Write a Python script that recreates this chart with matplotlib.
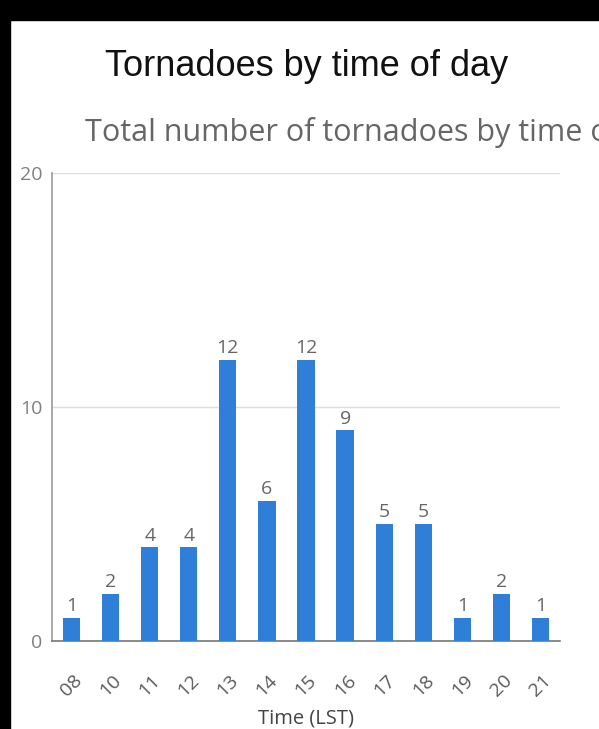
import matplotlib
matplotlib.use("Agg")
import matplotlib.pyplot as plt
from matplotlib.patches import Rectangle

# tornado counts by hour (LST)
hours = ["08", "10", "11", "12", "13", "14", "15", "16", "17", "18", "19", "20", "21"]
counts = [1, 2, 4, 4, 12, 6, 12, 9, 5, 5, 1, 2, 1]
y_ticks = [0, 10, 20]

W, H = 599, 729
fig = plt.figure(figsize=(W / 100, H / 100), dpi=100)

# black frame strips seen on top and left of the screenshot
fig.patches.append(Rectangle((0, 1 - 20 / H), 1, 20 / H, transform=fig.transFigure,
                             color="black", zorder=0))
fig.patches.append(Rectangle((0, 0), 10 / W, 1, transform=fig.transFigure,
                             color="black", zorder=0))

ax = fig.add_axes([52 / W, 1 - 641 / H, 508 / W, 468 / H])

x = range(len(hours))
ax.bar(x, counts, width=0.44, color="#2f7fd9", zorder=3)
for xi, c in zip(x, counts):
    ax.text(xi, c + 0.12, str(c), ha="center", va="bottom", fontsize=14,
            color="#666666", family="Open Sans")

ax.set_xlim(-0.5, len(hours) - 0.5)
ax.set_ylim(0, 20)
ax.set_yticks(y_ticks)
ax.set_yticklabels([str(v) for v in y_ticks], family="Open Sans", fontsize=14, color="#808080")
ax.set_xticks(list(x))
ax.set_xticklabels(hours, rotation=45, ha="center", family="Open Sans", fontsize=14,
                   color="#5a5a5a")
ax.tick_params(axis="y", length=0, pad=7)
ax.tick_params(axis="x", length=0, pad=22)
ax.grid(axis="y", color="#dddddd", linewidth=1, zorder=0)

for s in ["top", "right"]:
    ax.spines[s].set_visible(False)
ax.spines["left"].set_color("#999999")
ax.spines["left"].set_linewidth(1.2)
ax.spines["bottom"].set_color("#777777")
ax.spines["bottom"].set_linewidth(1.2)

ax.set_xlabel("Time (LST)", family="Open Sans", fontsize=14.5, color="#444444", labelpad=6)

fig.text(105 / W, 1 - 67 / H, "Tornadoes by time of day", family="Liberation Sans",
         fontsize=26, color="#111111", va="center", ha="left")
# subtitle runs past the right edge, as in the source screenshot
fig.text(85 / W, 1 - 132 / H, "Total number of tornadoes by time of day",
         family="Open Sans", fontsize=22, color="#666666", va="center", ha="left")

fig.savefig("out.png", dpi=100, facecolor="white")
